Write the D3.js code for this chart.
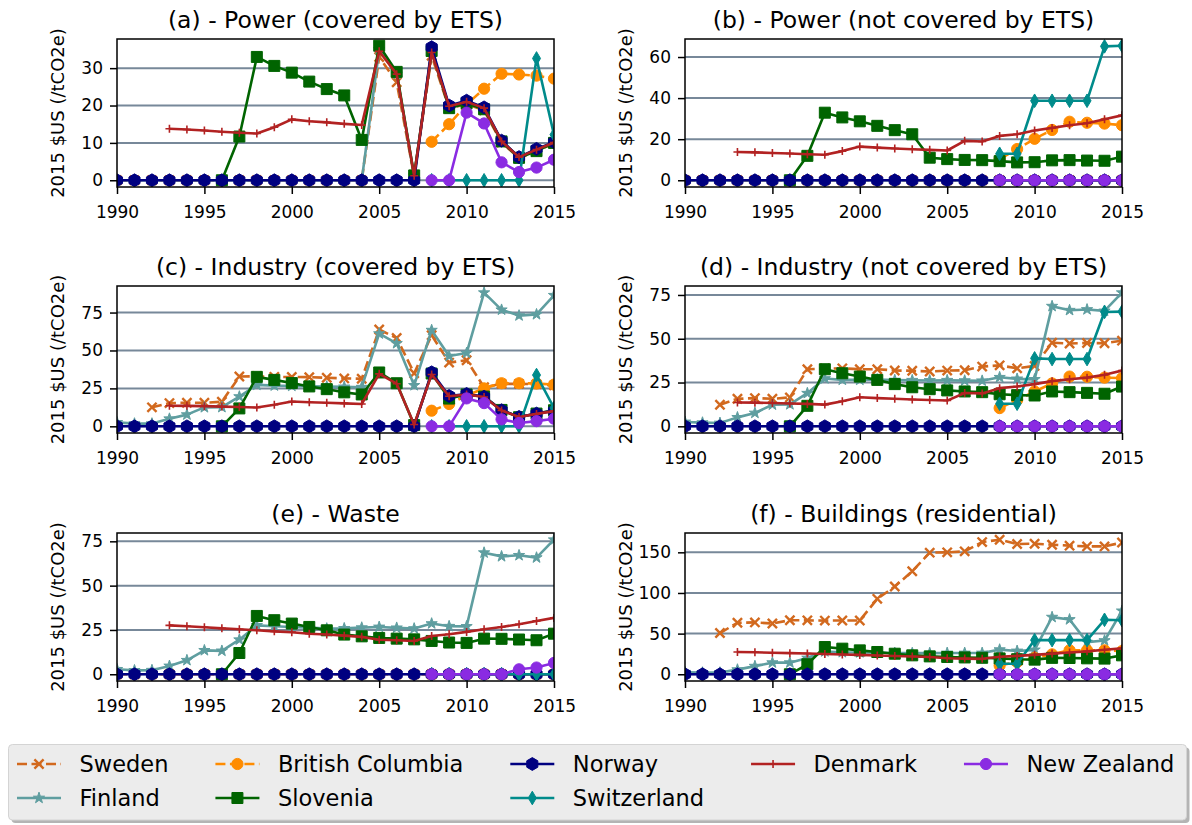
<!DOCTYPE html>
<html>
<head>
<meta charset="utf-8">
<script src="https://cdn.jsdelivr.net/npm/d3@7"></script>
<style>
  body { margin: 0; background: #fff; }
  text { font-family: "DejaVu Sans", sans-serif; }
</style>
</head>
<body>
<svg id="chart" width="1192" height="825"></svg>
<script>
//////////
// DATA //
//////////

var N = null;

var years = [1990, 1991, 1992, 1993, 1994, 1995, 1996, 1997, 1998, 1999, 2000, 2001, 2002,
             2003, 2004, 2005, 2006, 2007, 2008, 2009, 2010, 2011, 2012, 2013, 2014, 2015];
var xTicks = [1990, 1995, 2000, 2005, 2010, 2015];

// plotting / legend order
var countries = ["Sweden", "Finland", "British Columbia", "Slovenia",
                 "Norway", "Switzerland", "Denmark", "New Zealand"];

var panelTitles = ["(a) - Power (covered by ETS)", "(b) - Power (not covered by ETS)",
                   "(c) - Industry (covered by ETS)", "(d) - Industry (not covered by ETS)",
                   "(e) - Waste", "(f) - Buildings (residential)"];

var yTicks_a = [0, 10, 20, 30];
var yTicks_b = [0, 20, 40, 60];
var yTicks_c = [0, 25, 50, 75];
var yTicks_d = [0, 25, 50, 75];
var yTicks_e = [0, 25, 50, 75];
var yTicks_f = [0, 50, 100, 150];

var yLabel = "2015 $US (/tCO2e)";

// (a) power covered by ETS, rows in the order of countries
var powerEts = [
  [0,0,0,0,0,0,0,0,0,0,0,0,0,0,0, 33.0,26.2,1.0,33.3,19.2,20.4,18.7,10.1,5.9,7.9,9.8],
  [0,0,0,0,0,0,0,0,0,0,0,0,0,0,0, 35.0,28.4,1.2,34.4,19.7,21.0,19.2,10.5,6.1,8.2,10.1],
  [N,N,N,N,N,N,N,N,N,N,N,N,N,N,N,N,N,N, 10.3,15.0,20.3,24.5,28.5,28.3,28.0,27.2],
  [N,N,N,N,N,N, 0,11.7,33.0,30.6,28.8,26.4,24.4,22.7,10.8, 36.0,29.0,1.3,34.6,19.3,20.6,19.0,10.4,6.0,7.8,10.0],
  [0,0,0,0,0,0,0,0,0,0,0,0,0,0,0,0,0,0, 35.6,20.0,21.3,19.5,10.6,6.2,8.4,10.2],
  [N,N,N,N,N,N,N,N,N,N,N,N,N,N,N,N,N,N, 0,0,0,0,0,0,32.6,12.2],
  [N,N,N, 13.8,13.6,13.3,13.0,12.7,12.5,14.2,16.3,15.8,15.5,15.1,14.8, 34.5,28.4,1.2,34.2,19.8,21.0,19.3,10.4,6.2,8.2,10.1],
  [N,N,N,N,N,N,N,N,N,N,N,N,N,N,N,N,N,N, 0,0,18.1,15.2,4.8,2.2,3.4,5.5]
];

// (b) power not covered by ETS
var powerNonEts = [
  [0,0,0,0,0,0,0,0,0,0,0,0,0,0,0,0,0,0,0,0,0,0,0,0,0,0],
  [0,0,0,0,0,0,0,0,0,0,0,0,0,0,0,0,0,0,0,0,0,0,0,0,0,0],
  [N,N,N,N,N,N,N,N,N,N,N,N,N,N,N,N,N,N, 10.3,15.2,20.2,24.5,28.5,28.0,27.6,26.8],
  [N,N,N,N,N,N, 0,11.9,32.9,30.6,28.7,26.5,24.4,22.4,11.0, 10.3,9.9,9.8,9.3,8.7,8.8,9.7,9.8,9.6,9.5,11.5],
  [0,0,0,0,0,0,0,0,0,0,0,0,0,0,0,0,0,0,0,0,0,0,0,0,0,0],
  [N,N,N,N,N,N,N,N,N,N,N,N,N,N,N,N,N,N, 12.9,12.9,38.7,38.7,38.7,38.7,65.2,65.5],
  [N,N,N, 13.8,13.6,13.3,13.0,12.7,12.4,14.2,16.4,15.9,15.5,15.1,14.8, 14.5,19.2,18.9,21.6,22.4,24.2,25.5,26.8,27.8,29.7,31.6],
  [N,N,N,N,N,N,N,N,N,N,N,N,N,N,N,N,N,N, 0,0,0,0,0,0,0,0]
];

// (c) industry covered by ETS
var industryEts = [
  [N,N, 12.5,15.3,15.5,15.5,16.2,32.8,33.0,32.6,32.5,32.4,32.0,31.6,31.4, 63.8,58.2,35.0,60.1,42.0,43.6,25.8,28.0,28.0,27.8,27.0],
  [2.6,1.8,1.8,5.0,7.7,12.5,12.6,19.6,27.3,26.8,26.6,26.4,26.2,26.0,25.8, 61.1,54.7,27.0,63.4,46.3,48.3,88.1,76.8,73.0,73.8,86.4],
  [N,N,N,N,N,N,N,N,N,N,N,N,N,N,N,N,N,N, 10.3,14.7,20.3,25.0,28.4,28.4,28.2,27.5],
  [N,N,N,N,N,N, 0,11.8,32.6,30.6,28.5,26.3,24.5,22.4,21.0, 35.5,28.4,0.8,34.8,18.3,21.0,19.6,10.8,6.0,8.4,10.6],
  [0,0,0,0,0,0,0,0,0,0,0,0,0,0,0,0,0,0, 35.6,20.0,21.3,19.5,10.6,6.2,8.4,10.2],
  [N,N,N,N,N,N,N,N,N,N,N,N,N,N,N,N,N,N, 0,0,0,0,0,0,33.8,12.1],
  [N,N,N, 13.6,13.5,13.3,13.0,12.7,12.4,14.2,16.4,15.9,15.5,15.1,14.7, 34.6,28.1,1.2,34.2,19.8,21.0,19.3,10.4,6.2,8.2,10.0],
  [N,N,N,N,N,N,N,N,N,N,N,N,N,N,N,N,N,N, 0,0,18.4,15.3,4.6,2.2,3.4,5.0]
];

// (d) industry not covered by ETS
var industryNonEts = [
  [N,N, 12.3,15.7,16.1,15.7,16.5,32.6,33.0,33.1,32.6,32.6,31.9,31.7,31.3, 31.8,32.0,34.1,34.8,33.1,34.5,47.7,47.3,47.6,47.4,48.9],
  [2.5,2.1,1.9,5.1,7.6,12.3,12.5,18.9,27.3,26.5,26.5,26.7,26.4,26.3,26.2, 26.3,26.1,26.0,28.0,27.1,26.8,68.6,66.3,66.7,65.9,76.3],
  [N,N,N,N,N,N,N,N,N,N,N,N,N,N,N,N,N,N, 10.4,15.0,19.9,24.5,28.4,28.3,27.8,27.5],
  [N,N,N,N,N,N, 0,11.7,32.6,30.3,28.4,26.5,24.1,22.3,21.2, 20.5,19.9,19.5,18.3,17.8,17.6,19.9,19.5,19.1,18.6,22.7],
  [0,0,0,0,0,0,0,0,0,0,0,0,0,0,0,0,0,0,0,0,0,0,0,0,0,0],
  [N,N,N,N,N,N,N,N,N,N,N,N,N,N,N,N,N,N, 12.9,12.9,38.8,38.4,38.4,38.4,65.3,65.5],
  [N,N,N, 13.6,13.5,13.3,13.0,12.8,12.4,14.3,16.6,16.1,15.7,15.3,15.0, 14.7,19.0,18.8,21.8,22.7,24.1,25.8,26.9,27.8,29.4,31.8],
  [N,N,N,N,N,N,N,N,N,N,N,N,N,N,N,N,N,N, 0,0,0,0,0,0,0,0]
];

// (e) waste
var waste = [
  [0,0,0,0,0,0,0,0,0,0,0,0,0,0,0,0,0,0,0,0,0,0,0,0,0,0],
  [2.8,2.2,2.3,4.7,7.9,13.5,13.2,19.5,27.6,27.1,26.7,26.3,25.8,25.9,26.3, 26.7,26.2,25.8,28.6,27.1,27.0,68.6,66.5,67.1,65.8,75.9],
  [N,N,N,N,N,N,N,N,N,N,N,N,N,N,N,N,N,N, 0,0,0,0,0,0,0,0],
  [N,N,N,N,N,N, 0,12.0,32.9,30.5,28.6,26.7,24.8,22.4,21.4, 20.5,20.1,19.7,18.8,17.9,17.7,20.1,20.0,19.6,19.2,22.9],
  [0,0,0,0,0,0,0,0,0,0,0,0,0,0,0,0,0,0,0,0,0,0,0,0,0,0],
  [N,N,N,N,N,N,N,N,N,N,N,N,N,N,N,N,N,N, 0,0,0,0,0,0,0,0],
  [N,N,N, 27.6,27.1,26.5,25.9,25.4,24.8,24.2,23.7,22.9,22.4,21.8,21.1, 19.5,19.2,18.8,21.6,22.6,23.9,25.4,26.7,28.2,30.1,31.8],
  [N,N,N,N,N,N,N,N,N,N,N,N,N,N,N,N,N,N, 0,0,0,0,0,2.8,3.8,6.4]
];

// (f) buildings (residential)
var buildings = [
  [N,N, 50.7,63.3,63.8,62.5,66.5,66.3,66.0,66.2,66.2,92.8,107.9,126.7,149.6, 150.0,151.2,162.6,165.5,160.2,160.6,159.4,158.2,157.3,157.3,162.0],
  [2.5,2.0,2.0,5.7,10.0,14.3,14.3,20.0,28.0,27.0,26.8,26.5,26.2,26.0,26.0, 26.2,26.2,26.2,30.3,28.7,30.0,70.3,67.4,39.5,41.5,78.0],
  [N,N,N,N,N,N,N,N,N,N,N,N,N,N,N,N,N,N, 10.8,15.0,20.3,24.5,29.5,29.5,29.5,28.5],
  [N,N,N,N,N,N, 0,12.3,33.5,31.5,29.4,27.4,25.3,23.3,22.0, 21.3,20.7,20.3,19.5,18.5,18.0,20.2,20.0,19.6,19.3,23.3],
  [0,0,0,0,0,0,0,0,0,0,0,0,0,0,0,0,0,0,0,0,0,0,0,0,0,0],
  [N,N,N,N,N,N,N,N,N,N,N,N,N,N,N,N,N,N, 13.0,13.0,42.0,42.0,42.0,42.0,67.0,66.5],
  [N,N,N, 27.4,27.0,26.5,26.0,25.5,25.0,24.4,23.8,23.1,22.5,21.9,21.3, 19.8,19.3,19.0,21.6,22.6,23.9,25.4,26.7,28.2,30.1,31.8],
  [N,N,N,N,N,N,N,N,N,N,N,N,N,N,N,N,N,N, 0,0,0,0,0,0,0,0]
];

var panelData = [powerEts, powerNonEts, industryEts, industryNonEts, waste, buildings];
var panelTicks = [yTicks_a, yTicks_b, yTicks_c, yTicks_d, yTicks_e, yTicks_f];

////////////
// STYLES //
////////////

var seriesStyle = [
  { color: "#D2691E", dash: "10,4.5", marker: "x" },
  { color: "#5F9EA0", dash: null,     marker: "star" },
  { color: "#FF8C00", dash: "10,4.5", marker: "circle" },
  { color: "#006400", dash: null,     marker: "square" },
  { color: "#000080", dash: null,     marker: "hexagon" },
  { color: "#008B8B", dash: null,     marker: "thin_diamond" },
  { color: "#B22222", dash: null,     marker: "plus" },
  { color: "#8A2BE2", dash: null,     marker: "circle" }
];

// axes boxes [left, top, right, bottom]
var boxes = [
  [117, 39, 554, 187], [685, 39, 1122, 187],
  [117, 286, 554, 433], [685, 286, 1122, 433],
  [117, 533, 554, 681], [685, 533, 1122, 681]
];

var tickFont = 17, titleFont = 23.5, labelFont = 18, legendFont = 22.5;

function polygon(n, r, r2, rot) {
  var pts = [];
  var k = r2 ? n * 2 : n;
  for (var i = 0; i < k; i++) {
    var a = rot + i * Math.PI * 2 / k;
    var rr = (r2 && i % 2) ? r2 : r;
    pts.push([rr * Math.cos(a), rr * Math.sin(a)]);
  }
  return "M" + pts.map(function (p) { return p[0].toFixed(2) + "," + p[1].toFixed(2); }).join("L") + "Z";
}

function markerPath(type) {
  switch (type) {
    case "x": return "M-4.6,-4.6L4.6,4.6M-4.6,4.6L4.6,-4.6";
    case "plus": return "M-4,0H4M0,-4V4";
    case "circle": return d3.symbol(d3.symbolCircle, Math.PI * 5.6 * 5.6)();
    case "square": return "M-5.5,-5.5H5.5V5.5H-5.5Z";
    case "hexagon": return polygon(6, 6.4, 0, -Math.PI / 2);
    case "star": return polygon(5, 5.9, 2.3, -Math.PI / 2);
    case "thin_diamond": return "M0,-6.8L4,0L0,6.8L-4,0Z";
  }
}

function styleMarker(sel, st) {
  var open = st.marker === "x" || st.marker === "plus";
  sel.attr("d", markerPath(st.marker))
    .attr("fill", open ? "none" : st.color)
    .attr("stroke", st.color)
    .attr("stroke-width", st.marker === "x" ? 2.4 : (st.marker === "plus" ? 1.6 : 1));
}

var svg = d3.select("#chart");

////////////
// PANELS //
////////////

panelData.forEach(function (rows, p) {
  var b = boxes[p];
  var x = d3.scaleLinear().domain([1990, 2015]).range([b[0], b[2]]);

  var all = d3.merge(rows).filter(function (v) { return v != null; });
  var lo = d3.min(all), hi = d3.max(all), pad = (hi - lo) * 0.05;
  var y = d3.scaleLinear().domain([lo - pad, hi + pad]).range([b[3], b[1]]);

  var g = svg.append("g").attr("class", "panel");

  // horizontal grid
  g.selectAll(".grid")
    .data(panelTicks[p])
    .enter().append("line")
    .attr("x1", b[0]).attr("x2", b[2])
    .attr("y1", function (d) { return y(d); })
    .attr("y2", function (d) { return y(d); })
    .attr("stroke", "#778899")
    .attr("stroke-width", 2);

  g.append("clipPath").attr("id", "clip" + p)
    .append("rect")
    .attr("x", b[0]).attr("y", b[1])
    .attr("width", b[2] - b[0]).attr("height", b[3] - b[1]);

  var plot = g.append("g").attr("clip-path", "url(#clip" + p + ")");

  var line = d3.line()
    .defined(function (d) { return d.v != null; })
    .x(function (d) { return x(d.year); })
    .y(function (d) { return y(d.v); });

  rows.forEach(function (row, s) {
    var st = seriesStyle[s];
    var pts = years.map(function (yr, i) { return { year: yr, v: row[i] }; })
      .filter(function (d) { return d.v != null; });
    if (!pts.length) return;
    plot.append("path")
      .datum(pts)
      .attr("d", line)
      .attr("fill", "none")
      .attr("stroke", st.color)
      .attr("stroke-width", 2.6)
      .attr("stroke-linejoin", "round")
      .attr("stroke-dasharray", st.dash);
    plot.selectAll(".m" + s)
      .data(pts)
      .enter().append("path")
      .attr("class", "m" + s)
      .attr("transform", function (d) { return "translate(" + x(d.year) + "," + y(d.v) + ")"; })
      .call(styleMarker, st);
  });

  // frame
  g.append("rect")
    .attr("x", b[0]).attr("y", b[1])
    .attr("width", b[2] - b[0]).attr("height", b[3] - b[1])
    .attr("fill", "none").attr("stroke", "#000").attr("stroke-width", 1.5);

  // axes
  var yAxis = d3.axisLeft(y).tickValues(panelTicks[p]).tickSize(7).tickPadding(7).tickFormat(d3.format("d"));
  var xAxis = d3.axisBottom(x).tickValues(xTicks).tickSize(7).tickPadding(12).tickFormat(d3.format("d"));

  var ya = g.append("g").attr("transform", "translate(" + b[0] + ",0)").call(yAxis);
  var xa = g.append("g").attr("transform", "translate(0," + b[3] + ")").call(xAxis);
  [ya, xa].forEach(function (a) {
    a.select(".domain").remove();
    a.selectAll("line").attr("stroke", "#000").attr("stroke-width", 1.5);
    a.selectAll("text").attr("fill", "#000").style("font-size", tickFont + "px")
      .style("font-family", "DejaVu Sans, sans-serif");
  });

  // title
  g.append("text")
    .attr("x", (b[0] + b[2]) / 2)
    .attr("y", b[1] - 11)
    .attr("text-anchor", "middle")
    .style("font-size", titleFont + "px")
    .text(panelTitles[p]);

  // y label
  g.append("text")
    .attr("transform", "translate(" + (b[0] - 53) + "," + ((b[1] + b[3]) / 2) + ") rotate(-90)")
    .attr("text-anchor", "middle")
    .style("font-size", labelFont + "px")
    .text(yLabel);
});

////////////
// LEGEND //
////////////

var legend = svg.append("g");
legend.append("rect")
  .attr("x", 11.5).attr("y", 747.5).attr("width", 1178).attr("height", 75.5).attr("rx", 4)
  .attr("fill", "#b4b4b4");
legend.append("rect")
  .attr("x", 8.5).attr("y", 744.5).attr("width", 1178).attr("height", 75.5).attr("rx", 4)
  .attr("fill", "#ececec").attr("stroke", "#d4d4d4").attr("stroke-width", 1);

// 5 columns filled column by column, like matplotlib (ncol=5)
var nCols = 5;
var nRows = Math.ceil(countries.length / nCols);
var nLarge = countries.length % nCols || nCols;
var colSizes = d3.range(nCols).map(function (c) { return c < nLarge ? nRows : nRows - 1; });

var rowY = [764, 798];
var handleLen = 44, handlePad = 18.5, colGap = 47;
var colX = 17;
var idx = 0;

colSizes.forEach(function (size) {
  var maxW = 0;
  for (var r = 0; r < size; r++) {
    var i = idx++;
    var st = seriesStyle[i];
    var item = legend.append("g");
    item.append("line")
      .attr("x1", colX).attr("x2", colX + handleLen)
      .attr("y1", rowY[r]).attr("y2", rowY[r])
      .attr("stroke", st.color).attr("stroke-width", 2.6)
      .attr("stroke-dasharray", st.dash);
    item.append("path")
      .attr("transform", "translate(" + (colX + handleLen / 2) + "," + rowY[r] + ")")
      .call(styleMarker, st);
    var t = item.append("text")
      .attr("x", colX + handleLen + handlePad)
      .attr("y", rowY[r])
      .attr("dy", "0.36em")
      .style("font-size", legendFont + "px")
      .text(countries[i]);
    maxW = Math.max(maxW, t.node().getComputedTextLength());
  }
  colX += handleLen + handlePad + maxW + colGap;
});
</script>
</body>
</html>
